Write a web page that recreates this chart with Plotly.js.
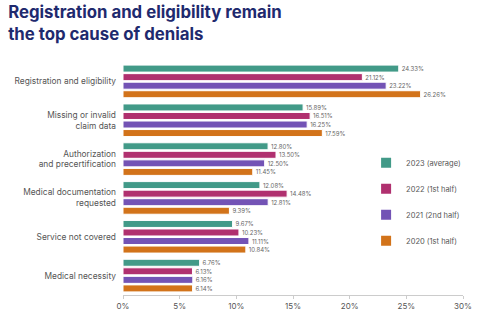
<!DOCTYPE html>
<html>
<head>
<meta charset="utf-8">
<script src="https://cdn.plot.ly/plotly-3.0.1.min.js"></script>
<style>html,body{margin:0;padding:0;background:#fff;}#chart{width:480px;height:316px;}</style>
</head>
<body>
<div id="chart"></div>
<script>
const categories = [
  "Registration and eligibility",
  "Missing or invalid<br>claim data",
  "Authorization<br>and precertification",
  "Medical documentation<br>requested",
  "Service not covered",
  "Medical necessity"
];
const seriesNames = ["2023 (average)", "2022 (1st half)", "2021 (2nd half)", "2020 (1st half)"];
const values2023 = [24.33, 15.89, 12.80, 12.08, 9.67, 6.76];
const values2022 = [21.12, 16.51, 13.50, 14.48, 10.23, 6.13];
const values2021 = [23.22, 16.25, 12.50, 12.81, 11.11, 6.16];
const values2020 = [26.26, 17.59, 11.45, 9.39, 10.84, 6.14];
const tickVals = [0, 5, 10, 15, 20, 25, 30];
const tickText = ["0%", "5%", "10%", "15%", "20%", "25%", "30%"];

const colors = ["#429a88", "#b0306f", "#7353b5", "#d2731a"];
const allValues = [values2023, values2022, values2021, values2020];

const traces = allValues.map((vals, i) => ({
  type: "bar",
  orientation: "h",
  name: seriesNames[i],
  legendgroup: "g" + i,
  y: categories,
  x: vals,
  text: vals.map(v => v.toFixed(2) + "%"),
  textposition: "outside",
  textfont: {family: "Inter, 'DejaVu Sans', sans-serif", size: 6, color: "#666"},
  cliponaxis: false,
  marker: {color: colors[i], line: {color: "#ffffff", width: 1}},
  hoverinfo: "none"
}));

const layout = {
  width: 480, height: 316,
  margin: {l: 123, r: 17, t: 61.5, b: 20.5},
  paper_bgcolor: "#fff", plot_bgcolor: "#fff",
  barmode: "group",
  bargap: 0.12,
  bargroupgap: 0.18,
  showlegend: true,
  legend: {
    x: 0.715, xanchor: "left", y: 0.63, yanchor: "top",
    font: {family: "Inter, 'DejaVu Sans', sans-serif", size: 7.5, color: "#555"},
    tracegroupgap: 7, itemsizing: "constant", itemwidth: 30,
    bgcolor: "rgba(0,0,0,0)",
    traceorder: "grouped"
  },
  title: {
    text: "<b>Registration and eligibility remain<br>the top cause of denials</b>",
    x: 0.017, xanchor: "left", xref: "container", y: 0.943, yanchor: "middle", yref: "container",
    font: {family: "Inter, 'DejaVu Sans', sans-serif", size: 16.8, color: "#1f2a6e"}
  },
  xaxis: {
    range: [0, 30],
    tickvals: tickVals, ticktext: tickText,
    showgrid: false, zeroline: false,
    showline: true, linecolor: "#cccccc", linewidth: 1,
    ticks: "outside", ticklen: 3, tickcolor: "#cccccc",
    tickfont: {family: "Inter, 'DejaVu Sans', sans-serif", size: 8, color: "#555"},
    fixedrange: true
  },
  yaxis: {
    autorange: "reversed",
    showgrid: false, zeroline: false, showline: false,
    ticks: "", ticklabelstandoff: 6,
    tickfont: {family: "Inter, 'DejaVu Sans', sans-serif", size: 8.4, color: "#555"},
    fixedrange: true
  }
};

Plotly.newPlot("chart", traces, layout, {displayModeBar: false, staticPlot: true});
</script>
</body>
</html>
